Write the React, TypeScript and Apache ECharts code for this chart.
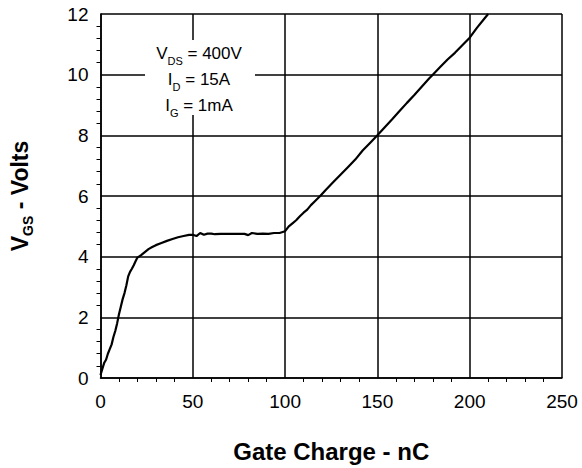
import React, { useEffect, useRef } from "react";
import * as echarts from "echarts";

const gateCharge = [
  0, 1, 2, 3, 4, 5, 6, 7, 8, 9, 10, 11, 12, 13, 14, 15, 16, 17, 18, 19, 20,
  22, 24, 26, 28, 30, 33, 36, 39, 42, 45, 48, 50, 52, 54, 56, 58, 60, 62, 65,
  70, 75, 78, 80, 82, 85, 88, 91, 94, 97, 100, 102, 104, 106, 108, 110, 112,
  114, 116, 119, 122, 126, 130, 134, 138, 142, 146, 150, 154, 158, 162, 166,
  170, 174, 178, 180, 184, 188, 192, 196, 200, 204, 208, 210,
];
const vgs = [
  0.1, 0.3, 0.5, 0.6, 0.8, 0.95, 1.1, 1.35, 1.55, 1.8, 2.1, 2.35, 2.6, 2.8,
  3.05, 3.35, 3.5, 3.6, 3.72, 3.85, 3.97, 4.05, 4.15, 4.25, 4.32, 4.38, 4.45,
  4.52, 4.58, 4.64, 4.68, 4.72, 4.72, 4.68, 4.78, 4.72, 4.76, 4.76, 4.74, 4.75,
  4.75, 4.75, 4.75, 4.71, 4.78, 4.75, 4.76, 4.75, 4.78, 4.78, 4.84, 5.0, 5.1,
  5.2, 5.33, 5.45, 5.55, 5.7, 5.82, 6.0, 6.2, 6.45, 6.7, 6.95, 7.2, 7.5, 7.75,
  8.0, 8.27, 8.53, 8.8, 9.07, 9.33, 9.6, 9.87, 10.0, 10.25, 10.5, 10.72, 10.97,
  11.22, 11.55, 11.85, 12.0,
];

const xTitle = "Gate Charge - nC";
const yTitle = "{v|V}{s|GS}{v| - Volts}";
const noteLines = [
  "{m|V}{s|DS}{m| = 400V}",
  "{m|I}{s|D}{m| = 15A}",
  "{m|I}{s|G}{m| = 1mA}",
];

const FONT = "Liberation Sans, Arial, Helvetica, sans-serif";

export default function App() {
  const ref = useRef<HTMLDivElement>(null);

  useEffect(() => {
    if (!ref.current) return;
    const chart = echarts.init(ref.current, null, { renderer: "svg" });
    const lineStyle = { color: "#000", width: 1.5 };
    chart.setOption({
      animation: false,
      backgroundColor: "#fff",
      grid: { left: 100, right: 20, top: 14, bottom: 89, containLabel: false },
      xAxis: {
        type: "value",
        min: 0,
        max: 250,
        interval: 50,
        name: xTitle,
        nameLocation: "middle",
        nameGap: 61,
        nameTextStyle: {
          fontFamily: FONT,
          fontSize: 24,
          fontWeight: "bold",
          color: "#000",
        },
        axisLine: { show: true, lineStyle },
        axisTick: { show: false },
        minorTick: {
          show: true,
          splitNumber: 5,
          length: 4,
          lineStyle: { color: "#000", width: 1 },
        },
        axisLabel: {
          fontFamily: FONT,
          fontSize: 19,
          color: "#000",
          margin: 14,
          showMaxLabel: true,
          overflow: "none",
        },
        splitLine: { show: true, lineStyle },
      },
      yAxis: {
        type: "value",
        min: 0,
        max: 12,
        interval: 2,
        name: yTitle,
        nameLocation: "middle",
        nameRotate: 90,
        nameGap: 66,
        nameTextStyle: {
          fontFamily: FONT,
          fontWeight: "bold",
          color: "#000",
          rich: {
            v: {
              fontFamily: FONT,
              fontSize: 23,
              fontWeight: "bold",
              color: "#000",
              lineHeight: 30,
              verticalAlign: "middle",
            },
            s: {
              fontFamily: FONT,
              fontSize: 14,
              fontWeight: "bold",
              color: "#000",
              lineHeight: 12,
              verticalAlign: "bottom",
            },
          },
        },
        axisLine: { show: true, lineStyle },
        axisTick: { show: false },
        minorTick: {
          show: true,
          splitNumber: 5,
          length: 4,
          lineStyle: { color: "#000", width: 1 },
        },
        axisLabel: {
          fontFamily: FONT,
          fontSize: 19,
          color: "#000",
          margin: 12,
        },
        splitLine: { show: true, lineStyle },
      },
      series: [
        {
          type: "line",
          data: gateCharge.map((q, i) => [q, vgs[i]]),
          showSymbol: false,
          symbol: "none",
          lineStyle: { color: "#000", width: 2.2 },
          z: 5,
        },
      ],
      graphic: [
        {
          type: "rect",
          shape: { x: 145, y: 40, width: 110, height: 75 },
          style: { fill: "#fff" },
          z: 10,
        },
        {
          type: "text",
          x: 199,
          y: 40.5,
          z: 11,
          style: {
            text: noteLines.join("\n"),
            align: "center",
            verticalAlign: "top",
            fill: "#000",
            font: `17px ${FONT}`,
            rich: {
              m: {
                fontFamily: FONT,
                fontSize: 17,
                fill: "#000",
                lineHeight: 26,
                verticalAlign: "middle",
              },
              s: {
                fontFamily: FONT,
                fontSize: 11,
                fill: "#000",
                lineHeight: 10,
                verticalAlign: "bottom",
              },
            },
          },
        },
      ],
    });
    return () => chart.dispose();
  }, []);

  return (
    <div
      ref={ref}
      style={{ width: 582, height: 468, position: "fixed", left: 0, top: 0 }}
    />
  );
}
